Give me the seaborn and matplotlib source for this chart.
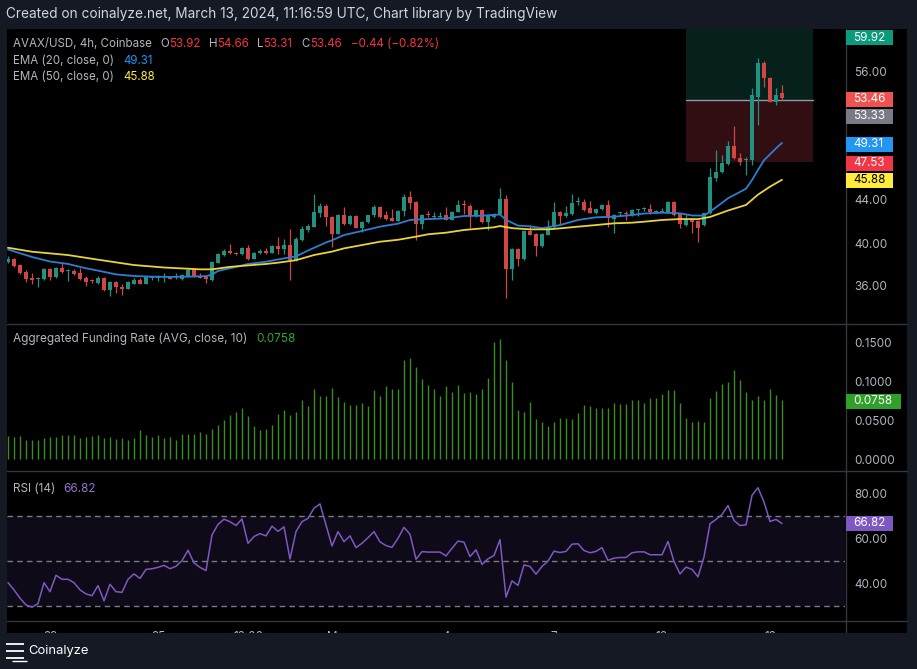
import numpy as np
import pandas as pd
import matplotlib
matplotlib.use('Agg')
import matplotlib.pyplot as plt
import seaborn as sns
from matplotlib.patches import Rectangle
from matplotlib.lines import Line2D

# ---------------- DATA ----------------
x_tick_idx = [7, 25, 40, 55, 73, 91, 109, 127]
x_tick_labels = ['22', '25', '12:00', 'Mar', '4', '7', '10', '13']

opens = [38.23,38.51,37.95,37.30,36.70,36.65,36.65,37.58,36.84,37.67,
         37.40,37.40,37.21,36.77,36.55,36.31,36.74,35.63,36.37,35.94,
         35.75,36.21,36.59,36.21,36.70,36.72,36.82,36.86,36.84,36.65,
         36.93,37.55,36.93,36.84,36.56,38.17,38.88,39.28,39.10,38.98,
         39.53,38.54,39.05,39.28,39.10,39.72,39.44,39.84,38.42,40.28,
         41.18,41.52,42.82,43.44,42.42,40.87,42.60,41.77,42.51,41.43,
         41.92,42.60,43.35,42.60,42.33,42.05,42.98,44.28,43.81,41.77,
         42.60,42.45,42.45,42.60,42.14,42.88,43.53,43.44,42.51,43.07,
         41.95,42.42,42.70,44.09,37.58,39.44,38.51,41.12,40.84,39.72,
         40.74,41.49,42.88,42.51,42.70,43.80,43.81,43.26,42.79,43.16,
         43.53,42.23,42.75,42.72,42.57,43.10,43.12,43.16,42.90,42.92,
         42.88,43.81,42.70,41.67,42.23,42.05,41.68,42.76,46.08,46.58,
         47.38,49.06,47.94,47.69,47.72,53.61,56.71,55.38,53.15,53.92]
highs = [38.79,38.60,38.05,37.49,37.20,36.87,37.65,37.65,37.75,38.10,
         37.60,37.60,37.70,36.95,36.65,36.90,36.80,36.45,36.45,36.15,
         36.45,36.75,36.75,36.85,36.95,37.05,37.17,36.90,37.17,37.10,
         37.64,37.62,37.24,37.05,38.30,39.10,39.40,39.87,39.20,39.60,
         39.78,39.20,39.40,39.50,39.80,40.56,40.34,41.27,40.60,41.60,
         41.80,44.56,43.70,43.62,42.50,42.70,43.35,42.60,42.60,42.05,
         42.65,43.58,43.45,42.98,43.16,43.05,44.56,44.84,43.90,42.70,
         42.98,42.88,42.88,43.35,42.98,44.00,44.00,43.60,43.10,43.15,
         42.55,42.80,45.12,44.46,39.50,39.55,41.20,41.68,40.90,40.90,
         42.14,43.81,42.95,43.44,44.56,44.28,44.09,43.90,43.20,43.60,
         44.00,42.70,42.88,42.98,43.16,43.16,43.35,43.63,43.05,43.26,
         43.90,43.90,42.75,42.70,42.33,42.10,42.80,46.95,48.65,48.20,
         49.50,50.90,48.35,48.00,54.39,57.18,56.96,55.45,54.39,54.66]
lows = [38.10,37.80,37.12,36.40,36.20,35.90,36.60,36.60,36.70,37.25,
        36.50,37.00,36.55,36.00,36.25,36.20,35.55,35.10,35.38,35.20,
        35.70,36.15,36.15,36.15,36.60,36.47,36.40,36.62,36.68,36.58,
        36.88,36.84,36.70,36.31,36.50,38.10,38.80,39.00,38.90,38.90,
        38.40,38.50,38.95,38.95,39.05,38.98,38.98,36.56,38.35,40.20,
        41.05,41.45,42.38,41.62,39.66,40.80,41.70,41.70,41.35,41.00,
        41.90,42.45,42.35,42.15,42.00,42.00,42.51,43.16,40.28,41.30,
        42.42,42.23,42.33,42.10,42.10,42.85,42.70,41.40,42.45,41.90,
        41.21,42.35,42.65,34.88,36.56,37.86,38.45,40.70,38.79,39.65,
        40.70,41.40,41.67,42.45,42.65,43.53,43.00,42.75,42.72,43.10,
        41.49,40.93,42.51,42.14,42.50,42.51,42.98,42.70,42.80,42.85,
        42.85,42.55,41.40,41.60,40.93,40.10,41.60,42.70,45.80,46.50,
        47.30,47.80,47.30,46.33,47.26,50.98,54.54,53.10,52.84,53.31]
closes = [38.51,37.89,37.21,36.65,36.60,36.77,37.58,36.84,37.67,37.30,
          37.50,37.10,36.65,36.40,36.45,36.77,35.63,36.37,35.87,35.75,
          36.37,36.59,36.21,36.80,36.84,36.84,36.86,36.68,36.88,37.02,
          37.46,36.87,36.77,36.62,38.23,38.98,39.28,39.04,38.95,39.53,
          38.51,39.07,39.28,39.10,39.72,39.44,39.84,38.42,40.37,41.30,
          41.58,42.88,43.44,42.42,40.87,42.60,41.77,42.51,41.40,41.95,
          42.60,43.35,42.42,42.23,42.05,42.98,44.28,43.72,41.77,42.60,
          42.57,42.48,42.48,42.14,42.88,43.53,43.50,42.51,43.07,41.95,
          42.51,42.70,44.09,37.58,39.44,38.51,41.12,40.74,39.72,40.84,
          41.49,42.88,42.51,42.79,43.72,43.84,43.07,42.79,43.16,43.53,
          42.33,42.60,42.78,42.68,43.07,43.13,43.16,42.88,42.95,42.96,
          43.81,42.60,41.77,42.23,41.95,41.40,42.76,46.14,46.64,47.41,
          49.06,47.88,47.57,47.72,53.77,56.78,55.38,53.15,53.77,53.46]

ema20_idx = [0,4,7,10,13,15,18,21,24,27,30,33,34,35,38,40,43,46,48,50,53,54,56,59,
             62,65,67,70,73,76,79,82,83,85,87,89,90,92,95,98,101,104,106,109,112,
             114,116,117,120,123,124,125,126,127,128,129]
ema20_val = [39.40,38.70,38.28,38.05,37.65,37.43,37.08,36.93,36.87,36.84,36.87,36.92,
             37.05,37.40,37.78,38.05,38.26,38.57,38.76,39.30,40.05,40.25,40.74,41.12,
             41.52,41.80,42.14,42.23,42.29,42.51,42.54,42.65,42.15,41.62,41.55,41.38,
             41.46,41.67,42.14,42.39,42.45,42.60,42.74,42.82,42.76,42.56,42.55,42.90,
             44.16,45.05,45.85,46.80,47.70,48.25,48.80,49.31]
ema50_idx = [0,4,10,15,21,26,32,34,37,43,45,48,51,54,56,59,62,65,68,70,73,76,79,81,
             82,84,87,90,92,95,98,101,104,106,109,112,115,117,120,123,125,127,129]
ema50_val = [39.56,39.19,38.88,38.45,37.95,37.72,37.55,37.55,37.78,38.05,38.17,38.40,
             38.88,39.20,39.50,39.81,40.12,40.30,40.59,40.81,40.96,41.21,41.36,41.46,
             41.58,41.38,41.27,41.27,41.36,41.52,41.67,41.83,41.89,41.98,42.14,42.23,
             42.22,42.42,43.02,43.54,44.50,45.24,45.88]

funding = [0.030,0.029,0.030,0.0245,0.0245,0.024,0.027,0.028,0.028,0.031,
           0.031,0.031,0.027,0.029,0.030,0.031,0.027,0.028,0.026,0.027,
           0.0245,0.027,0.037,0.031,0.029,0.031,0.027,0.029,0.0245,0.032,
           0.032,0.032,0.035,0.032,0.039,0.044,0.050,0.057,0.061,0.066,
           0.056,0.043,0.038,0.039,0.044,0.058,0.063,0.057,0.061,0.076,
           0.068,0.091,0.082,0.082,0.092,0.080,0.073,0.070,0.070,0.072,
           0.069,0.089,0.082,0.094,0.091,0.090,0.128,0.130,0.119,0.104,
           0.095,0.091,0.082,0.094,0.087,0.095,
           0.0857,0.0866,0.0840,0.0909,0.1047,0.151,0.155,0.128,0.0995,0.0633,
           0.0607,0.0736,0.0512,0.0478,0.0426,0.0478,0.053,0.053,0.0512,0.0598,
           0.0702,0.0685,0.0659,0.0659,0.0659,0.0728,0.0711,0.0711,0.0762,0.0762,
           0.0728,0.0788,0.0788,0.0840,0.0891,0.0891,0.0728,0.053,0.0478,0.0495,
           0.0478,0.0788,0.0883,0.0969,0.0995,0.115,0.102,0.0866,0.0762,0.0814,
           0.0762,0.0909,0.0831,0.0758]

rsi = [40.5,37.3,33.6,30.6,29.6,31.2,40.5,36.5,43.8,42.0,
       42.0,40.5,37.3,35.5,34.7,39.2,32.4,39.8,36.5,36.2,
       42.0,44.4,42.4,46.4,46.7,47.3,48.2,46.7,47.8,50.3,
       54.9,49.3,47.3,45.9,61.7,66.4,68.7,67.6,65.9,68.8,
       58.0,61.0,62.3,61.3,65.6,63.3,65.3,51.0,63.2,67.6,
       69.1,73.6,75.5,66.1,56.8,63.2,58.7,61.3,56.1,58.0,
       60.5,63.2,58.6,57.0,56.2,60.2,65.1,62.0,50.9,54.3,
       54.1,54.1,54.1,52.4,55.8,59.0,
       58.5,52.1,55.1,48.6,51.1,52.6,59.6,34.1,41.3,39.3,
       48.4,47.7,44.3,47.7,50.1,54.5,53.9,54.4,57.6,57.8,
       54.8,53.8,54.4,56.1,50.4,51.4,51.7,51.7,53.8,54.2,
       54.2,52.9,52.9,52.9,58.8,49.9,44.4,47.4,46.4,43.1,
       51.9,66.7,68.6,70.8,74.8,68.1,65.9,66.2,79.3,82.7,
       76.3,67.7,68.6,66.8]

price_ticks = [36, 40, 44, 56]
funding_ticks = [0.0, 0.05, 0.10, 0.15]
rsi_ticks = [40, 60, 80]
rsi_levels = [30, 50, 70]
pos_start_idx, pos_end_idx = 113.0, 134.17
pos_entry, pos_target, pos_stop = 53.33, 59.92, 47.53

title = "Created on coinalyze.net, March 13, 2024, 11:16:59 UTC, Chart library by TradingView"

# ---------------- STYLE ----------------
sns.set_theme(style='dark')
plt.rcParams['font.family'] = ['Inter', 'DejaVu Sans']
plt.rcParams['axes.grid'] = False

NAVY = '#151924'
GRAY_TXT = '#b2b5be'
UP = '#22917f'
DOWN = '#cf4645'
SEP = '#33363f'

W, H = 917, 669
fig = plt.figure(figsize=(W / 100, H / 100), dpi=100)
fig.patch.set_facecolor(NAVY)
renderer = fig.canvas.get_renderer()


def fx(x):
    return x / W


def fy(y):
    return 1 - y / H


def px_axes(x0, y0, x1, y1, **kw):
    return fig.add_axes([x0 / W, 1 - y1 / H, (x1 - x0) / W, (y1 - y0) / H], **kw)


def fit(s, target, base=10.0):
    t = fig.text(0, 0, s, fontsize=base)
    w = t.get_window_extent(renderer=renderer).width
    t.remove()
    return base * target / w


def seq(xpx, ypx, parts, size):
    x = xpx
    for s, c in parts:
        t = fig.text(fx(x), fy(ypx), s, color=c, fontsize=size, va='center', ha='left', zorder=5)
        x += t.get_window_extent(renderer=renderer).width


# black chart area
fig.add_artist(Rectangle((fx(7), fy(633)), (907 - 7) / W, (633 - 29.3) / H,
                         transform=fig.transFigure, facecolor='black', edgecolor='none', zorder=-5))

tick_fs = fit('56.00', 33)
leg_fs = fit('AVAX/USD, 4h, Coinbase', 139.5)
fund_fs = fit('Aggregated Funding Rate (AVG, close, 10)', 235.7)
title_fs = fit(title, 555)

n = len(closes)
idx = np.arange(n)
x_left = -1 / 6
x_right = (845 - 8) / 6


def style_axes(ax, yl):
    ax.set_facecolor('black')
    for s in ax.spines.values():
        s.set_visible(False)
    ax.set_xlim(x_left, x_right)
    ax.set_ylim(*yl)
    ax.yaxis.tick_right()
    ax.tick_params(axis='y', length=0, pad=6.5, labelsize=tick_fs, labelcolor=GRAY_TXT)
    ax.tick_params(axis='x', length=0)


# ---------------- PRICE PANEL ----------------
def p_of(y):
    return 56 - (y - 71) / 10.75


axp = px_axes(7, 29.3, 845, 323)
style_axes(axp, (p_of(323), p_of(29.3)))
axp.set_xticks([])
axp.set_yticks(price_ticks)
axp.set_yticklabels([f'{v:.2f}' for v in price_ticks])

axp.add_patch(Rectangle((pos_start_idx, pos_entry), pos_end_idx - pos_start_idx, pos_target - pos_entry,
                        facecolor='#06201b', edgecolor='none', zorder=0))
axp.add_patch(Rectangle((pos_start_idx, pos_stop), pos_end_idx - pos_start_idx, pos_entry - pos_stop,
                        facecolor='#300e12', edgecolor='none', zorder=0))
axp.plot([pos_start_idx, pos_end_idx], [pos_entry, pos_entry], color='#9598a1', lw=1.0, zorder=1)

o = np.array(opens); c = np.array(closes); hi = np.array(highs); lo = np.array(lows)
cols = np.where(c >= o, UP, DOWN)
axp.vlines(idx, lo, hi, colors=cols, lw=0.9, zorder=2)
bottom = np.minimum(o, c)
height = np.maximum(np.abs(c - o), 0.09)
axp.bar(idx, height, bottom=bottom, width=0.66, color=cols, linewidth=0, zorder=3)

sns.lineplot(x=ema20_idx, y=ema20_val, ax=axp, color='#2a7fd4', linewidth=1.3, legend=False, zorder=4)
sns.lineplot(x=ema50_idx, y=ema50_val, ax=axp, color='#e8d33a', linewidth=1.3, legend=False, zorder=4)
axp.set_xlabel(''); axp.set_ylabel('')

# ---------------- FUNDING PANEL ----------------
def f_of(y):
    return (459 - y) / 774


axf = px_axes(7, 324, 845, 470)
style_axes(axf, (f_of(470), f_of(324)))
axf.set_xticks([])
axf.set_yticks(funding_ticks)
axf.set_yticklabels([f'{v:.4f}' for v in funding_ticks])
axf.vlines(idx, 0, funding, colors='#3a8c1d', lw=1.0)

# ---------------- RSI PANEL ----------------
def r_of(y):
    return 70 - (y - 516.3) / 2.25


axr = px_axes(7, 471, 845, 620.5)
style_axes(axr, (r_of(620.5), r_of(471)))
axr.axhspan(rsi_levels[0], rsi_levels[2], color='#7e57c2', alpha=0.12, lw=0, zorder=0)
for lv in rsi_levels:
    axr.axhline(lv, color='#787b86', lw=1.0, ls=(0, (4, 3)), zorder=1)
sns.lineplot(x=idx, y=rsi, ax=axr, color='#7e57c2', linewidth=1.1, legend=False, zorder=3)
axr.set_xlabel(''); axr.set_ylabel('')
axr.set_yticks(rsi_ticks)
axr.set_yticklabels([f'{v:.2f}' for v in rsi_ticks])
axr.set_xticks(x_tick_idx)
axr.set_xticklabels(x_tick_labels)
axr.tick_params(axis='x', length=0, pad=7.6, labelsize=tick_fs, labelcolor=GRAY_TXT)

# ---------------- SEPARATORS ----------------
for yy in (323.5, 470.5, 620.5):
    fig.add_artist(Line2D([fx(7), fx(907)], [fy(yy), fy(yy)], transform=fig.transFigure,
                          color=SEP, lw=1.0, zorder=6))
fig.add_artist(Line2D([fx(845.5), fx(845.5)], [fy(29.3), fy(633)], transform=fig.transFigure,
                      color=SEP, lw=1.0, zorder=6))

# ---------------- AXIS VALUE BOXES ----------------
def axis_box(ypx, text, bg, fg, x1=893):
    fig.add_artist(Rectangle((fx(845.5), fy(ypx + 7.5)), (x1 - 845.5) / W, 15 / H,
                             transform=fig.transFigure, facecolor=bg, edgecolor='none', zorder=7))
    fig.text(fx(853.5), fy(ypx), text, color=fg, fontsize=tick_fs, va='center', ha='left', zorder=8)


axis_box(37.7, '59.92', '#0b9a7c', 'white')
axis_box(99.0, '53.46', '#ef5350', 'white')
axis_box(116.3, '53.33', '#787b86', 'white')
axis_box(144.3, '49.31', '#2196f3', 'white')
axis_box(163.3, '47.53', '#f23645', 'white')
axis_box(180.3, '45.88', '#ffeb3b', 'black')
axis_box(401.3, '0.0758', '#31a02a', 'white', x1=900.7)
axis_box(523.3, '66.82', '#7e57c2', 'white')

# ---------------- LEGEND TEXTS ----------------
RED = '#f23645'
fig.text(fx(6), fy(14), title, color='#d1d4dc', fontsize=title_fs, va='center', ha='left')
seq(12.7, 44, [('AVAX/USD, 4h, Coinbase', GRAY_TXT)], leg_fs)
seq(160, 44, [('O', GRAY_TXT), ('53.92', RED)], leg_fs)
seq(208.7, 44, [('H', GRAY_TXT), ('54.66', RED)], leg_fs)
seq(257, 44, [('L', GRAY_TXT), ('53.31', RED)], leg_fs)
seq(301.7, 44, [('C', GRAY_TXT), ('53.46', RED)], leg_fs)
seq(350.7, 44, [('\u22120.44 (\u22120.82%)', RED)], leg_fs)
seq(12.7, 61, [('EMA (20, close, 0)', GRAY_TXT)], leg_fs)
seq(123.3, 61, [('49.31', '#2196f3')], leg_fs)
seq(12.7, 77.5, [('EMA (50, close, 0)', GRAY_TXT)], leg_fs)
seq(123.3, 77.5, [('45.88', '#ffeb3b')], leg_fs)
seq(12.7, 339, [('Aggregated Funding Rate (AVG, close, 10)', GRAY_TXT)], fund_fs)
seq(256.7, 339, [('0.0758', '#33a532')], fund_fs)
seq(12.7, 489, [('RSI (14)', GRAY_TXT)], fund_fs)
seq(63.3, 489, [('66.82', '#9575cd')], fund_fs)

# ---------------- FOOTER ----------------
axfoot = px_axes(0, 633, 917, 669, zorder=10)
axfoot.set_facecolor(NAVY)
axfoot.set_xticks([]); axfoot.set_yticks([])
for s in axfoot.spines.values():
    s.set_visible(False)
axfoot.set_xlim(0, 917); axfoot.set_ylim(669, 633)
for (x0, x1, yy) in [(6, 24, 643.5), (6, 24, 650.5), (6, 24, 657.5)]:
    axfoot.plot([x0, x1], [yy, yy], color='white', lw=1.3, solid_capstyle='butt')
axfoot.plot([12, 27], [660.5, 660.5], color='white', lw=1.0, solid_capstyle='butt')
foot_fs = fit('Coinalyze', 61)
axfoot.text(28, 651, 'Coinalyze', color='white', fontsize=foot_fs, va='center', ha='left')

fig.savefig('out.png', dpi=100, facecolor=fig.get_facecolor())
